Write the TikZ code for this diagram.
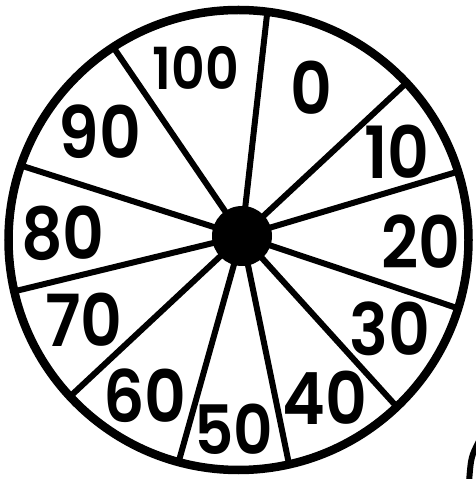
\documentclass[tikz,border=0pt]{standalone}
\usepackage{fontspec}
\setmainfont{Poppins}[BoldFont={Poppins SemiBold}]
\tikzset{
  rim/.style={line width=8.5pt},
  spoke/.style={line width=6pt},
  num/.style={font=\bfseries\fontsize{72}{72}\selectfont,inner sep=0pt,xscale=0.9},
  smallnum/.style={num,font=\bfseries\fontsize{58}{58}\selectfont},
}
\begin{document}
\begin{tikzpicture}[x=1pt,y=1pt]
\useasboundingbox (0,0) rectangle (476,479);

% wheel
\coordinate (ctr) at (238.5,239);
\coordinate (hub) at (242,243);
\draw[rim] (ctr) circle (230);
\foreach \a in {82.8,43.1,17.3,-17.3,-46.5,-77.3,-105.1,-137.1,-167.1,161.1,123.0}
  \draw[spoke] (hub) -- ([shift={(\a:230)}]ctr);
\fill (hub) circle (30);

% numbers
\node[smallnum] (n100) at (196,411) {100};
\node[num] (n0) at (311,391) {0};
\node[num] (n10) at (397,327) {10};
\node[num] (n20) at (421,237) {20};
\node[num] (n30) at (390,150) {30};
\node[num] (n40) at (325,81) {40};
\node[num,font=\bfseries\fontsize{68}{68}\selectfont] (n50) at (234,50) {50};
\node[num] (n60) at (145,83) {60};
\node[num] (n70) at (84,159) {70};
\node[num] (n80) at (63,246) {80};
\node[num] (n90) at (100,347) {90};

% cut-off mark
\draw[line width=6pt] (479,38) .. controls (471,22) .. (469,-3);
\end{tikzpicture}
\end{document}
